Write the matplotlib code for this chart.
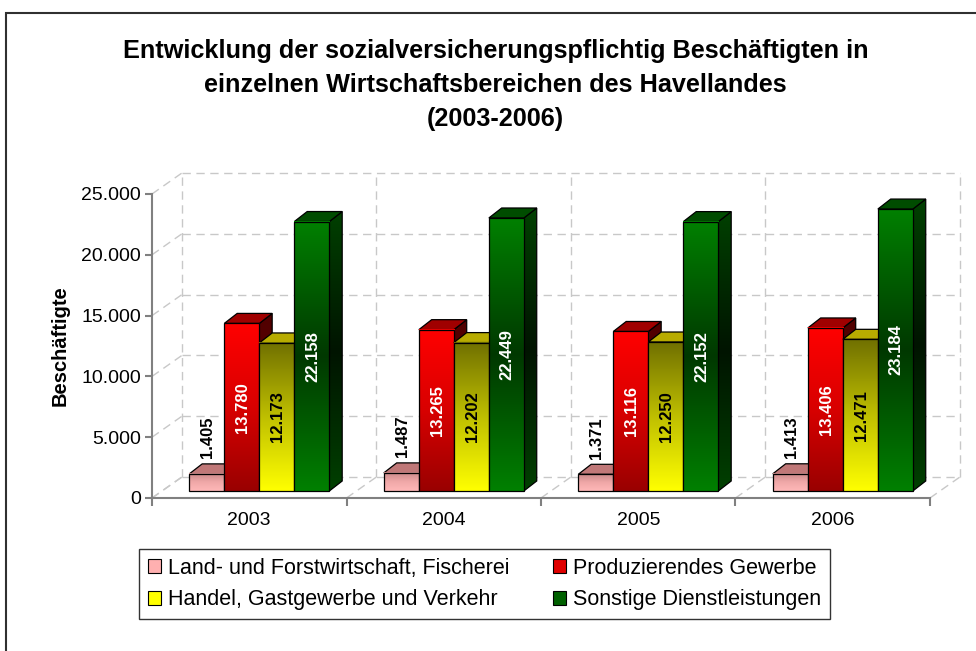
import numpy as np
import matplotlib
matplotlib.use('Agg')
import matplotlib.pyplot as plt
from matplotlib.colors import LinearSegmentedColormap
from matplotlib.patches import Polygon, Rectangle, Patch

plt.rcParams['font.family'] = ['Liberation Sans', 'DejaVu Sans']

TITLE = ('Entwicklung der sozialversicherungspflichtig Beschäftigten in\n'
         'einzelnen Wirtschaftsbereichen des Havellandes\n(2003-2006)')
YEARS = ['2003', '2004', '2005', '2006']
SERIES = ['Land- und Forstwirtschaft, Fischerei', 'Produzierendes Gewerbe',
          'Handel, Gastgewerbe und Verkehr', 'Sonstige Dienstleistungen']
AGRI = [1405, 1487, 1371, 1413]
PROD = [13780, 13265, 13116, 13406]
HANDEL = [12173, 12202, 12250, 12471]
SONST = [22158, 22449, 22152, 23184]
Y_TICKS = [0, 5000, 10000, 15000, 20000, 25000]

# styles: front gradient (bottom->top), side gradient, top colour, label colour, legend colour
FRONT = [['#FFB8B8', '#F0A8A8', '#C88888'],
         ['#990000', '#D80000', '#FF0000'],
         ['#FFFF00', '#BFBF00', '#707000'],
         ['#008000', '#003800', '#008000']]
SIDE = [['#B87878', '#905858'],
        ['#700000', '#500000'],
        ['#707000', '#505000'],
        ['#004000', '#001400', '#004000']]
TOP = ['#C07878', '#A00000', '#B8AC00', '#004C00']
LABEL_COL = ['black', 'white', 'black', 'white']
LEGEND_COL = ['#FFB0B0', '#E00000', '#FFFF00', '#006000']

BAR_W = 0.18
FRONT_DX, FRONT_DY = 0.052, 580
DEPTH_DX, DEPTH_DY = 0.066, 820
WALL_DX, WALL_DY = 0.154, 1730
GRID_COL = '#C8C8C8'
AXIS_COL = '#808080'


def gradient(ax, x0, x1, y0, y1, colors, clip=None, z=3):
    cmap = LinearSegmentedColormap.from_list('g', colors)
    grad = np.linspace(0, 1, 256).reshape(-1, 1)
    im = ax.imshow(grad, extent=(x0, x1, y0, y1), origin='lower', aspect='auto',
                   cmap=cmap, zorder=z, interpolation='bilinear')
    if clip is not None:
        im.set_clip_path(clip)
    else:
        im.set_clip_on(False)
    return im


def draw_bar(ax, x0, v, k, z):
    x1 = x0 + BAR_W
    y0 = FRONT_DY
    y1 = FRONT_DY + v
    # side face
    side = Polygon([(x1, y0), (x1 + DEPTH_DX, y0 + DEPTH_DY), (x1 + DEPTH_DX, y1 + DEPTH_DY), (x1, y1)],
                   closed=True, transform=ax.transData)
    gradient(ax, x1, x1 + DEPTH_DX, y0, y1 + DEPTH_DY, SIDE[k], clip=side, z=z)
    ax.add_patch(Polygon(side.get_xy(), closed=True, fill=False, edgecolor='black', lw=0.9, zorder=z + 0.1, clip_on=False))
    # top face
    ax.add_patch(Polygon([(x0, y1), (x0 + DEPTH_DX, y1 + DEPTH_DY), (x1 + DEPTH_DX, y1 + DEPTH_DY), (x1, y1)],
                         closed=True, facecolor=TOP[k], edgecolor='black', lw=0.9, zorder=z + 0.1, clip_on=False))
    # front face
    gradient(ax, x0, x1, y0, y1, FRONT[k], z=z + 0.2)
    ax.add_patch(Rectangle((x0, y0), BAR_W, v, fill=False, edgecolor='black', lw=0.9, zorder=z + 0.3, clip_on=False))


def main() -> None:
    fig = plt.figure(figsize=(9.76, 6.51), dpi=100)
    ax = fig.add_axes([152 / 976, 1 - 498 / 651, (930 - 152) / 976, (498 - 194) / 651])
    ax.set_facecolor('none')

    n = len(YEARS)
    # walls and grid
    for t in Y_TICKS:
        ax.plot([0, WALL_DX], [t, t + WALL_DY], color=GRID_COL, ls=(0, (6, 4)), lw=1, clip_on=False, zorder=1)
        ax.plot([WALL_DX, n + WALL_DX], [t + WALL_DY, t + WALL_DY], color=GRID_COL, ls=(0, (6, 4)), lw=1,
                clip_on=False, zorder=1)
    for c in range(n + 1):
        ax.plot([c, c + WALL_DX], [0, WALL_DY], color=GRID_COL, ls=(0, (6, 4)), lw=1, clip_on=False, zorder=1)
        ax.plot([c + WALL_DX, c + WALL_DX], [WALL_DY, Y_TICKS[-1] + WALL_DY], color=GRID_COL,
                ls=(0, (6, 4)), lw=1, clip_on=False, zorder=1)

    data = [AGRI, PROD, HANDEL, SONST]
    for i in range(n):
        start = i + 0.5 - 2 * BAR_W + FRONT_DX
        for k, series in enumerate(data):
            x0 = start + k * BAR_W
            v = series[i]
            draw_bar(ax, x0, v, k, z=3 + k)
            label = f'{v:,}'.replace(',', '.')
            if k == 0:
                ax.text(x0 + BAR_W / 2 + 0.005, FRONT_DY + v + DEPTH_DY + 450, label, rotation=90,
                        ha='center', va='bottom', fontsize=12, fontweight='bold', color=LABEL_COL[k], zorder=10)
            else:
                ax.text(x0 + BAR_W / 2 + 0.005, FRONT_DY + v / 2, label, rotation=90, ha='center', va='center',
                        fontsize=12, fontweight='bold', color=LABEL_COL[k], zorder=10)

    ax.set_xlim(0, n)
    ax.set_ylim(0, Y_TICKS[-1])
    for s in ['top', 'right']:
        ax.spines[s].set_visible(False)
    for s in ['left', 'bottom']:
        ax.spines[s].set_color(AXIS_COL)
        ax.spines[s].set_linewidth(1.5)
        ax.spines[s].set_zorder(2)
    ax.set_yticks(Y_TICKS)
    ax.set_yticklabels([f'{t:,}'.replace(',', '.') for t in Y_TICKS])
    ax.set_xticks(range(n + 1))
    ax.set_xticklabels([])
    ax.set_xticks([i + 0.5 for i in range(n)], minor=True)
    ax.set_xticklabels(YEARS, minor=True)
    ax.tick_params(axis='x', which='minor', length=0, labelsize=14, pad=10)
    ax.tick_params(axis='x', which='major', length=6, color=AXIS_COL, width=1.5)
    ax.tick_params(axis='y', length=5, color=AXIS_COL, width=1.5, labelsize=14, pad=3)
    ax.set_ylabel('Beschäftigte', fontsize=14.5, fontweight='bold', labelpad=8)

    fig.text(0.508, 1 - 85 / 651, TITLE, ha='center', va='center', fontsize=18.2, fontweight='bold',
             linespacing=1.55)

    handles = [Patch(facecolor=LEGEND_COL[k], edgecolor='black', lw=0.8) for k in range(4)]
    order = [0, 2, 1, 3]
    leg = fig.legend([handles[k] for k in order], [SERIES[k] for k in order], ncol=2,
                     loc='upper left', bbox_to_anchor=(139 / 976, 1 - 549 / 651), frameon=True,
                     fancybox=False, fontsize=15.5, handlelength=0.6, handleheight=0.6, handletextpad=0.35,
                     columnspacing=2.0, borderpad=0.4, labelspacing=0.5, borderaxespad=0)
    leg.get_frame().set_edgecolor('black')
    leg.get_frame().set_linewidth(1)

    fig.add_artist(Rectangle((6 / 976, -0.1), 1.2, 1 - 13 / 651 + 0.1, transform=fig.transFigure,
                             fill=False, edgecolor='#303030', lw=1.5))

    fig.savefig('out.png', dpi=100)


if __name__ == '__main__':
    main()
